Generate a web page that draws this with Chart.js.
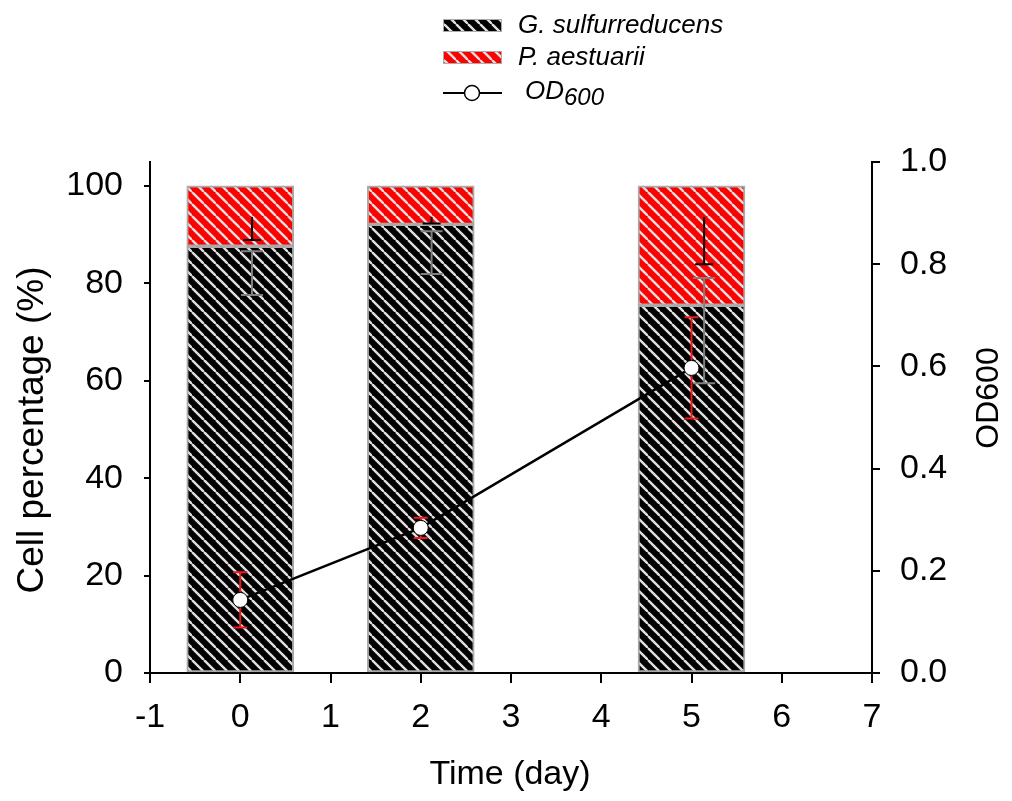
<!DOCTYPE html>
<html>
<head>
<meta charset="utf-8">
<script src="https://cdn.jsdelivr.net/npm/chart.js@4/dist/chart.umd.min.js"></script>
<style>
  body { margin: 0; background: #fff; }
  #wrap { width: 1012px; height: 801px; }
</style>
</head>
<body>
<div id="wrap"><canvas id="chart" width="1012" height="801"></canvas></div>
<script>
// data
const days = [0, 2, 5];
const geoPct = [87.6, 92.1, 75.5];      // G. sulfurreducens
const pelPct = [12.4, 7.9, 24.5];       // P. aestuarii
const od600 = [0.143, 0.284, 0.597];
const odSd = [0.054, 0.020, 0.099];
// error bars of the cell percentages, drawn a little right of the bar centre
const errX = [0.13, 2.12, 5.14];
const geoErrLow = [77.6, 81.9, 59.5];
const geoErrHigh = [86.6, 90.7, 81.1];
const pelErrLow = [88.9, 92.3, 83.9];
const pelErrHigh = [93.6, 93.6, 93.6];
const leftTicks = [0, 20, 40, 60, 80, 100];

const FONT = '"Liberation Sans", Arial, sans-serif';

function hatch(bg) {
    const s = 12;
    const c = document.createElement('canvas');
    c.width = s; c.height = s;
    const g = c.getContext('2d');
    g.fillStyle = bg;
    g.fillRect(0, 0, s, s);
    g.strokeStyle = '#e0e0e0';
    g.lineWidth = 2.4;
    [-s, 0, s].forEach(x0 => {
        g.beginPath();
        g.moveTo(x0, 0);
        g.lineTo(x0 + s, s);
        g.stroke();
    });
    return g.createPattern(c, 'repeat');
}
const blackHatch = hatch('#000000');
const redHatch = hatch('#ff0000');

function vErr(ctx, x, yTop, yBot, half, color, capTop, capBot) {
    ctx.save();
    ctx.strokeStyle = color;
    ctx.lineWidth = 2;
    ctx.beginPath();
    ctx.moveTo(x, yTop); ctx.lineTo(x, yBot);
    if (capTop) { ctx.moveTo(x - half, yTop); ctx.lineTo(x + half, yTop); }
    if (capBot) { ctx.moveTo(x - half, yBot); ctx.lineTo(x + half, yBot); }
    ctx.stroke();
    ctx.restore();
}

const errorBars = {
    id: 'errorBars',
    beforeDatasetDraw(chart, args) {
        if (args.meta.type !== 'line') return;
        const { ctx, scales: { x, y, y1 } } = chart;
        days.forEach((d, i) => {
            const ex = x.getPixelForValue(errX[i]);
            vErr(ctx, ex, y.getPixelForValue(geoErrHigh[i]), y.getPixelForValue(geoErrLow[i]), 11, '#808080', true, true);
            vErr(ctx, ex, y.getPixelForValue(pelErrHigh[i]), y.getPixelForValue(pelErrLow[i]), 9, '#000', false, true);
            const px = x.getPixelForValue(d);
            vErr(ctx, px, y1.getPixelForValue(od600[i] + odSd[i]), y1.getPixelForValue(od600[i] - odSd[i]), 7, '#f01818', true, true);
        });
    }
};

const decorations = {
    id: 'decorations',
    afterDraw(chart) {
        const ctx = chart.ctx;
        ctx.save();
        // legend
        ctx.fillStyle = blackHatch;
        ctx.fillRect(443, 19, 59, 13);
        ctx.strokeStyle = '#aaa'; ctx.lineWidth = 1;
        ctx.strokeRect(443.5, 19.5, 58, 12);
        ctx.fillStyle = redHatch;
        ctx.fillRect(443, 51, 59, 13);
        ctx.strokeRect(443.5, 51.5, 58, 12);
        ctx.strokeStyle = '#000'; ctx.lineWidth = 2;
        ctx.beginPath(); ctx.moveTo(443, 93); ctx.lineTo(502, 93); ctx.stroke();
        ctx.beginPath(); ctx.arc(472, 93, 7.5, 0, Math.PI * 2);
        ctx.fillStyle = '#fff'; ctx.fill(); ctx.lineWidth = 1.5; ctx.stroke();

        ctx.fillStyle = '#000';
        ctx.textBaseline = 'alphabetic';
        ctx.textAlign = 'left';
        ctx.font = 'italic 26px ' + FONT;
        ctx.fillText('G. sulfurreducens', 518, 33);
        ctx.fillText('P. aestuarii', 518, 65);
        ctx.fillText('OD', 525, 99);
        const w = ctx.measureText('OD').width;
        ctx.font = 'italic 24px ' + FONT;
        ctx.fillText('600', 525 + w, 105);

        // axis titles
        ctx.font = '34px ' + FONT;
        ctx.textAlign = 'center';
        ctx.textBaseline = 'middle';
        ctx.fillText('Time (day)', 510, 775);
        ctx.save();
        ctx.font = '37px ' + FONT;
        ctx.translate(33, 430);
        ctx.rotate(-Math.PI / 2);
        ctx.fillText('Cell percentage (%)', 0, 0);
        ctx.restore();
        ctx.save();
        ctx.font = '32px ' + FONT;
        ctx.translate(989, 398);
        ctx.rotate(-Math.PI / 2);
        ctx.fillText('OD600', 0, 0);
        ctx.restore();
        ctx.restore();
    }
};

const tickFont = { size: 34, family: FONT };

new Chart(document.getElementById('chart'), {
    type: 'bar',
    data: {
        datasets: [
            {
                type: 'line',
                label: 'OD600',
                yAxisID: 'y1',
                data: days.map((d, i) => ({ x: d, y: od600[i] })),
                borderColor: '#000',
                borderWidth: 2.5,
                pointRadius: 7.5,
                pointBackgroundColor: '#fff',
                pointBorderColor: '#000',
                pointBorderWidth: 1,
                tension: 0,
                order: 0
            },
            {
                label: 'G. sulfurreducens',
                yAxisID: 'y',
                data: days.map((d, i) => ({ x: d, y: geoPct[i] })),
                backgroundColor: blackHatch,
                borderColor: '#aaa',
                borderWidth: 2,
                borderSkipped: false,
                barThickness: 107,
                order: 1
            },
            {
                label: 'P. aestuarii',
                yAxisID: 'y',
                data: days.map((d, i) => ({ x: d, y: pelPct[i] })),
                backgroundColor: redHatch,
                borderColor: '#aaa',
                borderWidth: 2,
                borderSkipped: false,
                barThickness: 107,
                order: 2
            }
        ]
    },
    options: {
        responsive: false,
        animation: false,
        devicePixelRatio: 1,
        layout: { padding: { top: 162, left: 0, right: 0, bottom: 0 } },
        plugins: {
            legend: { display: false },
            tooltip: { enabled: false }
        },
        scales: {
            x: {
                type: 'linear',
                min: -1, max: 7,
                offset: false,
                stacked: true,
                afterFit: s => { s.height = 128; },
                grid: { display: true, offset: false, drawOnChartArea: false, drawTicks: true, tickLength: 10, color: '#000', lineWidth: 2 },
                border: { display: true, color: '#000', width: 2 },
                ticks: { stepSize: 1, color: '#000', font: tickFont, padding: 14, callback: v => String(v) }
            },
            y: {
                position: 'left',
                min: 0, max: 104.9,
                stacked: true,
                afterFit: s => { s.width = 150; },
                afterBuildTicks: s => { s.ticks = leftTicks.map(v => ({ value: v })); },
                grid: { display: true, drawOnChartArea: false, drawTicks: true, tickLength: 6, color: '#000', lineWidth: 2 },
                border: { display: true, color: '#000', width: 2 },
                ticks: { color: '#000', font: tickFont, padding: 21 }
            },
            y1: {
                position: 'right',
                min: 0, max: 1,
                afterFit: s => { s.width = 140; },
                grid: { display: true, drawOnChartArea: false, drawTicks: true, tickLength: 8, color: '#000', lineWidth: 2 },
                border: { display: true, color: '#000', width: 2 },
                ticks: { stepSize: 0.2, color: '#000', font: tickFont, padding: 20, callback: v => v.toFixed(1) }
            }
        }
    },
    plugins: [errorBars, decorations]
});
</script>
</body>
</html>
